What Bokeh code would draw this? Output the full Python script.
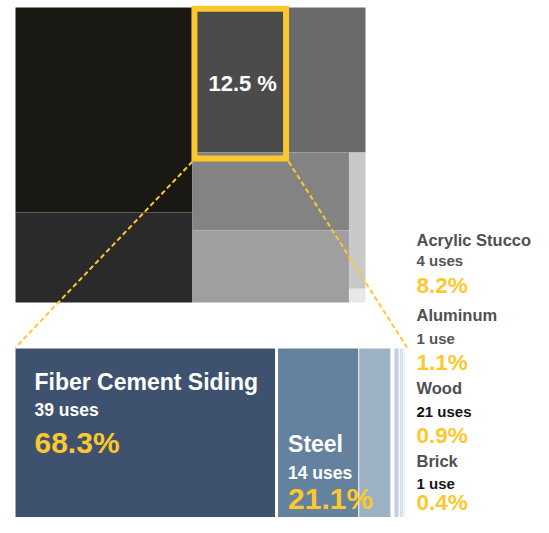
from bokeh.plotting import figure
from bokeh.models import Range1d
from bokeh.core.properties import value
from bokeh.embed import file_html
from bokeh.resources import INLINE

# ---------------- data ----------------
# overview treemap (grey blocks), area shares in %
top_values = [35.1, 15.4, 13.5, 10.8, 11.8, 10.9, 2.18, 0.22]
top_colors = ["#191812", "#2a2a2a", "#4b4b4b", "#6a6a6a",
              "#838383", "#9f9f9f", "#c8c8c8", "#e8e8e8"]
top_tree = [[0, 1], [[2, 3], [[4, 5], [6, 7]]]]
highlight_index = 2
highlight_label = "12.5 %"

# zoomed breakdown
materials = ["Fiber Cement Siding", "Steel", "Acrylic Stucco", "Aluminum", "Wood", "Brick"]
uses = [39, 14, 4, 1, 21, 1]
shares = [68.3, 21.1, 8.2, 1.1, 0.9, 0.4]
bar_colors = ["#3e526f", "#64819d", "#9db1c5", "#c3d0dd", "#d9e2ec", "#edf1f6"]

YELLOW = "#fcc82d"
FONT = value("Liberation Sans")
BASE_SHIFT = 0.37  # empirical baseline correction (fraction of font size)

# ---------------- layout helpers ----------------
def total(node):
    if isinstance(node, int):
        return top_values[node]
    return sum(total(c) for c in node)

def place(node, x0, y0, x1, y1, depth, out):
    if isinstance(node, int):
        out[node] = (x0, y0, x1, y1)
        return
    t = total(node)
    pos = x0 if depth % 2 == 0 else y0
    for c in node:
        f = total(c) / t
        if depth % 2 == 0:
            w = (x1 - x0) * f
            place(c, pos, y0, pos + w, y1, depth + 1, out)
            pos += w
        else:
            h = (y1 - y0) * f
            place(c, x0, pos, x1, pos + h, depth + 1, out)
            pos += h

cells = {}
place(top_tree, 15, 7, 365, 302, 0, cells)
order = sorted(cells)

p = figure(width=533, height=517, output_backend="svg", toolbar_location=None,
           x_range=Range1d(0, 533), y_range=Range1d(517, 0), min_border=0)
p.axis.visible = False
p.grid.visible = False
p.outline_line_color = None
p.background_fill_color = "white"
p.border_fill_color = "white"

def label(x, y, txt, color, size):
    p.text(x=[x], y=[y - BASE_SHIFT * size], text=[txt], text_color=color, text_font=FONT,
           text_font_style="bold", text_font_size=f"{size}px", text_baseline="alphabetic")

p.quad(left=[cells[i][0] for i in order], right=[cells[i][2] for i in order],
       top=[cells[i][1] for i in order], bottom=[cells[i][3] for i in order],
       fill_color=[top_colors[i] for i in order], line_color=None)

hx0, hy0, hx1, hy1 = cells[highlight_index]
bl, br, bt, bb = hx0 + 2, hx1 - 2.5, hy0 + 1.3, hy1 + 6
p.quad(left=[bl], right=[br], top=[bt], bottom=[bb], fill_color=None,
       line_color=YELLOW, line_width=6, line_join="miter")
label(hx0 + 16, 91, highlight_label, "white", 22)

# breakdown bars
scale = 3.80
gaps = [3, 1, 4, 1.2, 0.3, 0]
lefts, rights = [], []
x = 15
for s, g in zip(shares, gaps):
    lefts.append(x)
    rights.append(x + s * scale)
    x = x + s * scale + g
bar_top = 348
p.quad(left=lefts, right=rights, top=[bar_top] * len(shares), bottom=[545] * len(shares),
       fill_color=bar_colors, line_color=None)

# dashed connectors
p.segment(x0=[bl - 2, br + 2.5], y0=[bb + 3, bb + 3], x1=[lefts[0], rights[-1] + 2],
          y1=[bar_top - 1, bar_top - 1], line_color=YELLOW, line_width=2, line_dash="5 3")

def uses_txt(n):
    return f"{n} use" if n == 1 else f"{n} uses"

# labels inside the two big bars
inside = [(0, lefts[0] + 19, 390, 416, 453), (1, lefts[1] + 10, 452, 479, 509)]
for i, tx, yn, yu, yp in inside:
    label(tx, yn, materials[i], "white", 23)
    label(tx, yu, uses_txt(uses[i]), "white", 17.5)
    label(tx, yp, f"{shares[i]}%", YELLOW, 30)

# side labels for the thin bars
side = [(2, 245.7, 266, 293.3, "#555555"), (3, 321, 343.3, 370, "#555555"),
        (4, 394, 416.5, 443, "#141414"), (5, 467, 489, 510, "#141414")]
for i, yn, yu, yp, ucol in side:
    label(416, yn, materials[i], "#505050", 16.5)
    label(416, yu, uses_txt(uses[i]), ucol, 15)
    label(416, yp, f"{shares[i]}%", YELLOW, 22.5)

open("out.html", "w").write(file_html(p, INLINE))
